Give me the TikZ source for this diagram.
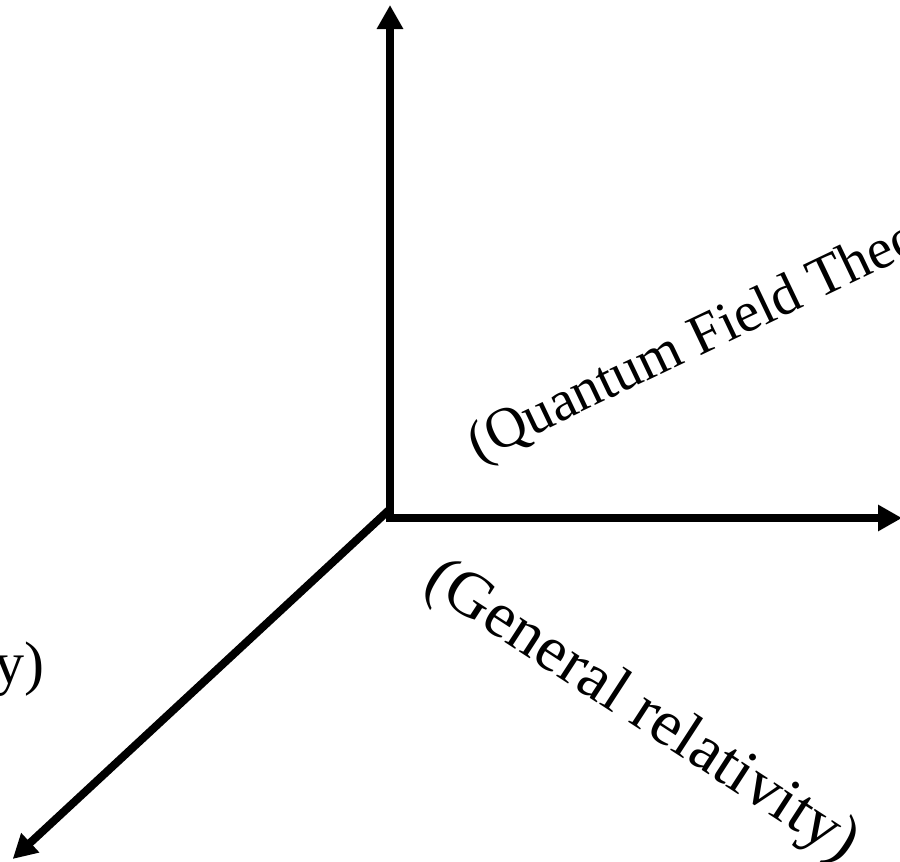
\documentclass[tikz,border=0pt]{standalone}
\usepackage{fontspec}
\setmainfont{Liberation Serif}
\usetikzlibrary{arrows.meta}
\begin{document}
\begin{tikzpicture}[x=1pt,y=1pt,
  axis/.style={line width=8pt, -{Triangle[length=24pt,width=25pt]}},
  lbl/.style={inner sep=0pt, outer sep=0pt}]
\useasboundingbox (0,-862) rectangle (900,0);
\clip (0,-862) rectangle (900,0);
\coordinate (vbot) at (390,-522);
\coordinate (up) at (390,-5);
\coordinate (hleft) at (390,-518);
\coordinate (right) at (902,-518);
\coordinate (dstart) at (389,-510);
\coordinate (dl) at (12.7,-859);
\draw[axis] (vbot) -- (up);
\draw[axis] (hleft) -- (right);
\draw[axis] (dstart) -- (dl);
% Quantum Field Theory label
\begin{scope}[shift={(478,-462)}, rotate=25.5, transform shape]
  \node[lbl, anchor=base west, font=\fontsize{57}{60}\selectfont] (qft) at (0,0) {(Quantum Field Theo};
\end{scope}
% General relativity label
\begin{scope}[shift={(421,-588)}, rotate=-33, xscale=1.025, transform shape]
  \node[lbl, anchor=base west, font=\fontsize{64}{66}\selectfont] (gr) at (0,0) {(General relativity)};
\end{scope}
% left label
\node[lbl, anchor=base east, font=\fontsize{60}{64}\selectfont] (sr) at (44,-683) {ty)};
\end{tikzpicture}
\end{document}
